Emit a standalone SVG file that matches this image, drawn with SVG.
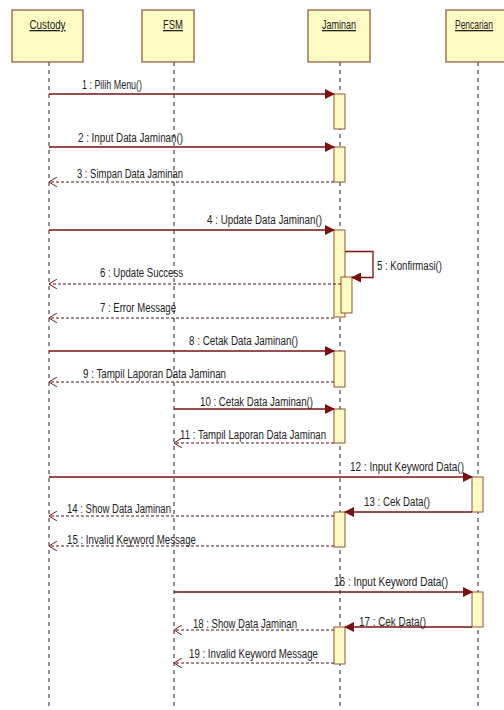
<svg xmlns="http://www.w3.org/2000/svg" width="504" height="710" viewBox="0 0 504 710">
<style>
.box{fill:#FFFBC4;stroke:#8E5434;stroke-width:1.2}
.act{fill:#FFFBC4;stroke:#8E5434;stroke-width:1}
.life{stroke:#222;stroke-width:1;stroke-dasharray:4,4;fill:none}
.msg{stroke:#7A1010;stroke-width:1.3;fill:none}
.ret{stroke:#5A1515;stroke-width:1.1;stroke-dasharray:3,2;fill:none}
.hd{font-family:"Liberation Sans",Arial,sans-serif;font-size:13px;fill:#222;text-decoration:underline}
.lb{font-family:"Liberation Sans",Arial,sans-serif;font-size:12.5px;fill:#222}
</style>
<defs>
<marker id="sync" markerWidth="10" markerHeight="10" refX="9" refY="5" orient="auto" markerUnits="userSpaceOnUse">
<path d="M0,0 L10,5 L0,10 z" fill="#7A1010"/>
</marker>
<marker id="open" markerWidth="10" markerHeight="10" refX="9" refY="5" orient="auto" markerUnits="userSpaceOnUse">
<path d="M1,0 L9,5 L1,10" fill="none" stroke="#7A1010" stroke-width="1"/>
</marker>
</defs>
<rect width="504" height="710" fill="#fff"/>

<g id="custody">
<line class="life" x1="49" y1="62" x2="49" y2="710"/>
<rect class="box" x="12" y="10" width="71" height="52"/>
<text class="hd" x="47.5" y="29" text-anchor="middle" textLength="36" lengthAdjust="spacingAndGlyphs">Custody</text>
</g>
<g id="fsm">
<line class="life" x1="174" y1="62" x2="174" y2="710"/>
<rect class="box" x="142" y="10" width="52" height="52"/>
<text class="hd" x="173" y="29" text-anchor="middle" textLength="20" lengthAdjust="spacingAndGlyphs">FSM</text>
</g>
<g id="jaminan">
<line class="life" x1="340" y1="62" x2="340" y2="710"/>
<rect class="box" x="308" y="10" width="62" height="52"/>
<text class="hd" x="339" y="29" text-anchor="middle" textLength="34" lengthAdjust="spacingAndGlyphs">Jaminan</text>
<rect class="act" x="334" y="94" width="11" height="35"/>
<rect class="act" x="334" y="147" width="11" height="35"/>
<rect class="act" x="334" y="230" width="11" height="87"/>
<rect class="act" x="341" y="277" width="11" height="36"/>
<rect class="act" x="334" y="351" width="11" height="36"/>
<rect class="act" x="334" y="409" width="11" height="34"/>
<rect class="act" x="334" y="512" width="11" height="35"/>
<rect class="act" x="334" y="627" width="11" height="37"/>
</g>
<g id="pencarian">
<line class="life" x1="478" y1="62" x2="478" y2="710"/>
<rect class="box" x="446" y="10" width="64" height="52"/>
<text class="hd" x="474" y="29" text-anchor="middle" textLength="38" lengthAdjust="spacingAndGlyphs">Pencarian</text>
<rect class="act" x="472" y="477" width="11" height="35"/>
<rect class="act" x="472" y="592" width="11" height="35"/>
</g>

<g id="connectors">
<line class="msg" x1="49" y1="94" x2="334" y2="94" marker-end="url(#sync)"/>
<line class="msg" x1="49" y1="147" x2="334" y2="147" marker-end="url(#sync)"/>
<line class="ret" x1="334" y1="182" x2="49" y2="182" marker-end="url(#open)"/>
<line class="msg" x1="49" y1="230" x2="334" y2="230" marker-end="url(#sync)"/>
<polyline class="msg" points="345,251.5 373,251.5 373,277.5 352,277.5" marker-end="url(#sync)"/>
<line class="ret" x1="341" y1="284" x2="49" y2="284" marker-end="url(#open)"/>
<line class="ret" x1="334" y1="318" x2="49" y2="318" marker-end="url(#open)"/>
<line class="msg" x1="49" y1="351" x2="334" y2="351" marker-end="url(#sync)"/>
<line class="ret" x1="334" y1="382" x2="49" y2="382" marker-end="url(#open)"/>
<line class="msg" x1="174" y1="409" x2="334" y2="409" marker-end="url(#sync)"/>
<line class="ret" x1="334" y1="443" x2="174" y2="443" marker-end="url(#open)"/>
<line class="msg" x1="49" y1="477" x2="472" y2="477" marker-end="url(#sync)"/>
<line class="msg" x1="472" y1="512" x2="345" y2="512" marker-end="url(#sync)"/>
<line class="ret" x1="334" y1="516" x2="49" y2="516" marker-end="url(#open)"/>
<line class="ret" x1="334" y1="546" x2="49" y2="546" marker-end="url(#open)"/>
<line class="msg" x1="174" y1="592" x2="472" y2="592" marker-end="url(#sync)"/>
<line class="msg" x1="472" y1="627" x2="345" y2="627" marker-end="url(#sync)"/>
<line class="ret" x1="334" y1="630" x2="174" y2="630" marker-end="url(#open)"/>
<line class="ret" x1="334" y1="663" x2="174" y2="663" marker-end="url(#open)"/>
</g>

<g id="labels">
<text class="lb" x="82" y="89" textLength="60" lengthAdjust="spacingAndGlyphs">1 : Pilih Menu()</text>
<text class="lb" x="78" y="142" textLength="105" lengthAdjust="spacingAndGlyphs">2 : Input Data Jaminan()</text>
<text class="lb" x="77" y="178" textLength="106" lengthAdjust="spacingAndGlyphs">3 : Simpan Data Jaminan</text>
<text class="lb" x="207" y="224" textLength="115" lengthAdjust="spacingAndGlyphs">4 : Update Data Jaminan()</text>
<text class="lb" x="377" y="270" textLength="65" lengthAdjust="spacingAndGlyphs">5 : Konfirmasi()</text>
<text class="lb" x="100" y="277" textLength="83" lengthAdjust="spacingAndGlyphs">6 : Update Success</text>
<text class="lb" x="100" y="312" textLength="76" lengthAdjust="spacingAndGlyphs">7 : Error Message</text>
<text class="lb" x="189" y="345" textLength="109" lengthAdjust="spacingAndGlyphs">8 : Cetak Data Jaminan()</text>
<text class="lb" x="83" y="378" textLength="143" lengthAdjust="spacingAndGlyphs">9 : Tampil Laporan Data Jaminan</text>
<text class="lb" x="200" y="406" textLength="113" lengthAdjust="spacingAndGlyphs">10 : Cetak Data Jaminan()</text>
<text class="lb" x="180" y="439" textLength="146" lengthAdjust="spacingAndGlyphs">11 : Tampil Laporan Data Jaminan</text>
<text class="lb" x="350" y="471" textLength="114" lengthAdjust="spacingAndGlyphs">12 : Input Keyword Data()</text>
<text class="lb" x="364" y="506" textLength="66" lengthAdjust="spacingAndGlyphs">13 : Cek Data()</text>
<text class="lb" x="67" y="513" textLength="104" lengthAdjust="spacingAndGlyphs">14 : Show Data Jaminan</text>
<text class="lb" x="67" y="544" textLength="129" lengthAdjust="spacingAndGlyphs">15 : Invalid Keyword Message</text>
<text class="lb" x="334" y="586" textLength="114" lengthAdjust="spacingAndGlyphs">16 : Input Keyword Data()</text>
<text class="lb" x="359" y="626" textLength="67" lengthAdjust="spacingAndGlyphs">17 : Cek Data()</text>
<text class="lb" x="193" y="628" textLength="104" lengthAdjust="spacingAndGlyphs">18 : Show Data Jaminan</text>
<text class="lb" x="189" y="658" textLength="129" lengthAdjust="spacingAndGlyphs">19 : Invalid Keyword Message</text>
</g>
</svg>
